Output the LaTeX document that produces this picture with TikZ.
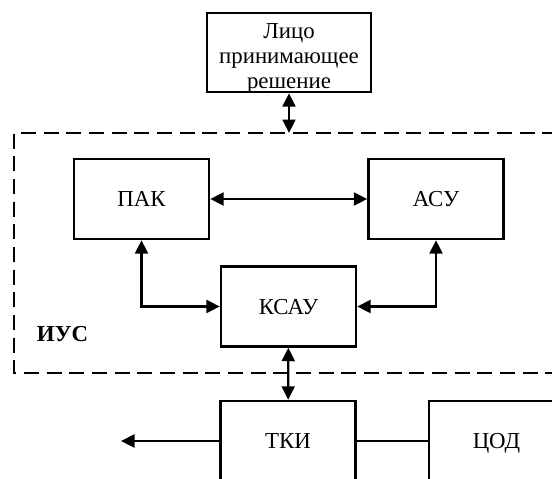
\documentclass[tikz,border=0pt]{standalone}
\usepackage{fontspec}
\setmainfont{Liberation Serif}
\usetikzlibrary{arrows.meta,positioning,calc}
\colorlet{ink}{black}
\newcommand{\blkfont}{\fontsize{13pt}{14pt}\selectfont}
\tikzset{>={Triangle[length=2.7mm,width=2.6mm]},
  blk/.style={draw=ink,line width=1.4pt,minimum width=2.7cm,minimum height=1.6cm,
    inner sep=0pt,text depth=0pt,font=\blkfont},
  link/.style={draw=ink,line width=1.3pt},
  zone/.style={draw=ink,line width=1.2pt,dash pattern=on 8.5pt off 4.4pt}}

\begin{document}
\begin{tikzpicture}
\useasboundingbox (0,0) rectangle (11.04,-9.56);
\clip (0,0) rectangle (11.04,-9.56);
% contour of the control system
\coordinate (iusnw) at (0.28,-2.66);
\coordinate (iussw) at (0.28,-7.46);
\draw[zone] (11.6,-2.66) -- (iusnw) -- (iussw) -- (11.6,-7.46);
\node[font=\blkfont\bfseries] (ius) at (1.25,-6.68) {ИУС};
% blocks
\node[blk,minimum width=3.28cm,minimum height=1.58cm] (lpr) at (5.78,-1.05) {};
\node[align=center,font=\blkfont,inner sep=0pt] (lprtxt) at ([yshift=-.12cm]lpr.center)
  {Лицо\\принимающее\\решение};
\node[blk] (pak) at (2.83,-3.98) {ПАК};
\node[blk] (asu) at (8.72,-3.98) {АСУ};
\node[blk] (ksau) at (5.77,-6.13) {КСАУ};
\node[blk] (tki) at (5.76,-8.82) {ТКИ};
\node[blk] (cod) at (9.93,-8.82) {ЦОД};
\coordinate (out) at (2.42,-8.82);
% links
\draw[link,<->] (lpr.south) -- (lpr.south |- iusnw);
\draw[link,<->] (pak) -- (asu);
\draw[link,<->] (pak.south) |- (ksau.west);
\draw[link,<->] (asu.south) |- (ksau.east);
\draw[link,<->] (ksau) -- (tki);
\draw[link] (tki) -- (cod);
\draw[link,->] (tki) -- (out);
\end{tikzpicture}
\end{document}
